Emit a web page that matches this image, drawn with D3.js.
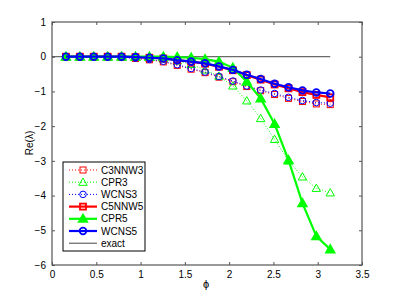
<!DOCTYPE html>
<html><head><meta charset="utf-8">
<script src="https://cdn.jsdelivr.net/npm/d3@7"></script>
<style>body{margin:0;background:#fff}svg{display:block}text{font-family:"Liberation Sans",Arial,sans-serif;fill:#000}</style>
</head><body><svg id="c" width="399" height="298"></svg>
<script>
const K = d3.range(1, 21);
const phi = K.map(k => k * Math.PI / 20);
const C3NNW3 = [0,0,0,-0.01,-0.02,-0.05,-0.09,-0.15,-0.25,-0.36,-0.46,-0.59,-0.72,-0.86,-0.98,-1.09,-1.2,-1.29,-1.36,-1.38];
const CPR3   = [0,0,0,0,0,-0.01,-0.02,-0.06,-0.12,-0.22,-0.38,-0.56,-0.84,-1.27,-1.78,-2.38,-3.0,-3.46,-3.79,-3.92];
const WCNS3  = [0,0,0,-0.01,-0.02,-0.04,-0.08,-0.13,-0.23,-0.34,-0.44,-0.57,-0.70,-0.84,-0.96,-1.06,-1.17,-1.26,-1.32,-1.34];
const C5NNW5 = [0,0,0,0,0,-0.01,-0.03,-0.05,-0.1,-0.14,-0.2,-0.29,-0.39,-0.53,-0.66,-0.8,-0.91,-1.02,-1.1,-1.17];
const CPR5   = [0,0,0,0,0,0,0,0,-0.01,-0.03,-0.07,-0.14,-0.32,-0.72,-1.2,-1.94,-2.98,-4.22,-5.17,-5.55];
const WCNS5  = [0,0,0,0,0,-0.01,-0.03,-0.05,-0.1,-0.14,-0.19,-0.28,-0.38,-0.52,-0.64,-0.78,-0.88,-0.97,-1.03,-1.06];
const exactX = [0, Math.PI];
const exactY = [0, 0];
const xTicks = [0,0.5,1,1.5,2,2.5,3,3.5];
const yTicks = [-6,-5,-4,-3,-2,-1,0,1];

const series = [
  {name:"C3NNW3", y:C3NNW3, color:"#ff0000", dash:"1,2", w:1, marker:"square", fill:false},
  {name:"CPR3",   y:CPR3,   color:"#00ff00", dash:"1,2", w:1, marker:"triangle", fill:false},
  {name:"WCNS3",  y:WCNS3,  color:"#0000ff", dash:"1,2", w:1, marker:"circle", fill:false},
  {name:"C5NNW5", y:C5NNW5, color:"#ff0000", dash:null, w:2.2, marker:"square", fill:false},
  {name:"CPR5",   y:CPR5,   color:"#00ff00", dash:null, w:2.2, marker:"triangle", fill:true},
  {name:"WCNS5",  y:WCNS5,  color:"#0000ff", dash:null, w:2.2, marker:"circle", fill:false}
];

const svg = d3.select("#c");
const L=52, R=362, T=22, B=265;
const x = d3.scaleLinear().domain([0,3.5]).range([L,R]);
const y = d3.scaleLinear().domain([-6,1]).range([B,T]);

const axCol="#555";
// box
svg.append("rect").attr("x",L).attr("y",T).attr("width",R-L).attr("height",B-T)
  .attr("fill","none").attr("stroke",axCol).attr("stroke-width",1.2);

const xb = svg.append("g").attr("transform",`translate(0,${B})`)
  .call(d3.axisBottom(x).tickValues(xTicks).tickSize(-3).tickPadding(6).tickFormat(d3.format("")));
const xt = svg.append("g").attr("transform",`translate(0,${T})`)
  .call(d3.axisTop(x).tickValues(xTicks).tickSize(-3).tickFormat(""));
const yl = svg.append("g").attr("transform",`translate(${L},0)`)
  .call(d3.axisLeft(y).tickValues(yTicks).tickSize(-3).tickPadding(6).tickFormat(d => d<0 ? "\u2212"+Math.abs(d) : String(d)));
const yr = svg.append("g").attr("transform",`translate(${R},0)`)
  .call(d3.axisRight(y).tickValues(yTicks).tickSize(-3).tickFormat(""));
[xb,xt,yl,yr].forEach(g=>{
  g.select(".domain").remove();
  g.selectAll(".tick line").attr("stroke",axCol).attr("stroke-width",1);
  g.selectAll("text").attr("font-size",10).attr("font-family","Liberation Sans, Arial, sans-serif");
});

// exact
svg.append("path").attr("d", d3.line()(exactX.map((v,i)=>[x(v),y(exactY[i])])))
  .attr("stroke","#444").attr("stroke-width",1).attr("fill","none");

function drawMarker(g, type, cx, cy, s){
  if(type==="circle") return g.append("circle").attr("cx",cx).attr("cy",cy).attr("r",3.3);
  if(type==="square") return g.append("rect").attr("x",cx-3).attr("y",cy-3).attr("width",6).attr("height",6);
  const h=4.2;
  return g.append("path").attr("d",`M${cx},${cy-h}L${cx+h},${cy+h*0.75}L${cx-h},${cy+h*0.75}Z`);
}

const line = d3.line().x((d,i)=>x(phi[i])).y(d=>y(d));
series.forEach(s=>{
  const p = svg.append("path").attr("d",line(s.y)).attr("fill","none")
    .attr("stroke",s.color).attr("stroke-width",s.w);
  if(s.dash) p.attr("stroke-dasharray",s.dash);
  const g = svg.append("g");
  s.y.forEach((v,i)=>{
    drawMarker(g,s.marker,x(phi[i]),y(v))
      .attr("fill",s.fill?s.color:"none").attr("stroke",s.color)
      .attr("stroke-width", s.dash?1:1.8);
  });
});

// labels
svg.append("text").attr("x",206).attr("y",288).attr("text-anchor","middle").attr("font-size",11).text("\u03d5");
svg.append("text").attr("transform","translate(33,143) rotate(-90)").attr("text-anchor","middle").attr("font-size",10).text("Re(\u03bb)");

// legend
const lg = svg.append("g");
lg.append("rect").attr("x",63).attr("y",162).attr("width",82).attr("height",89)
  .attr("fill","#fff").attr("stroke","#000").attr("stroke-width",1);
const items = series.concat([{name:"exact", color:"#444", dash:null, w:1, marker:null}]);
items.forEach((s,i)=>{
  const yy = 170 + i*12.2;
  const l = lg.append("line").attr("x1",69).attr("x2",97).attr("y1",yy).attr("y2",yy)
    .attr("stroke",s.color).attr("stroke-width",s.w);
  if(s.dash) l.attr("stroke-dasharray",s.dash);
  if(s.marker) drawMarker(lg,s.marker,83,yy).attr("fill",s.fill?s.color:"none")
      .attr("stroke",s.color).attr("stroke-width",s.dash?1:1.8);
  lg.append("text").attr("x",101).attr("y",yy+3.5).attr("font-size",10).text(s.name);
});
</script></body></html>
